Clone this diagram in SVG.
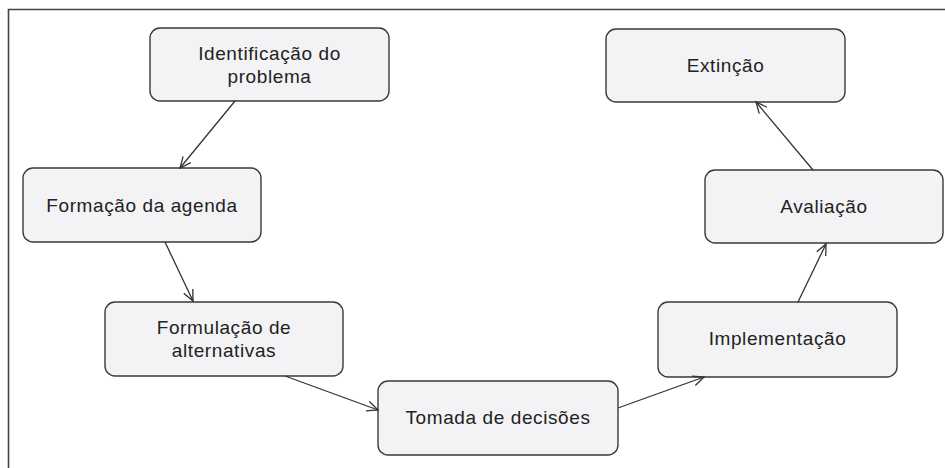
<svg xmlns="http://www.w3.org/2000/svg" width="945" height="468" viewBox="0 0 945 468">
<defs>
<marker id="ah" markerWidth="14" markerHeight="12" refX="12" refY="6" orient="auto" markerUnits="userSpaceOnUse">
<path d="M1,1 L12,6 L1,11" fill="none" stroke="#333" stroke-width="1.3"/>
</marker>
<style>
.n rect{fill:#f3f3f5;stroke:#3a3a3a;stroke-width:1.4}
.n text{font-family:"Liberation Sans",Arial,sans-serif;font-size:19px;letter-spacing:0.6px;fill:#222;text-anchor:middle}
.c line{stroke:#333;stroke-width:1.3;marker-end:url(#ah)}
</style>
</defs>
<rect width="945" height="468" fill="#fff"/>
<path d="M8.5,468 V9.5 H945" fill="none" stroke="#444" stroke-width="1.6"/>
<g id="n1" class="n"><rect x="150" y="28" width="239" height="73" rx="10"/><text x="269.5" y="60">Identificação do</text><text x="269.5" y="83">problema</text></g>
<g id="n2" class="n"><rect x="23" y="168" width="238" height="74" rx="10"/><text x="142" y="212">Formação da agenda</text></g>
<g id="n3" class="n"><rect x="105" y="302" width="238" height="74" rx="10"/><text x="224" y="334">Formulação de</text><text x="224" y="357">alternativas</text></g>
<g id="n4" class="n"><rect x="378" y="381" width="240" height="74" rx="10"/><text x="498" y="424">Tomada de decisões</text></g>
<g id="n5" class="n"><rect x="658" y="302" width="239" height="75" rx="10"/><text x="777.5" y="345">Implementação</text></g>
<g id="n6" class="n"><rect x="705" y="170" width="238" height="73" rx="10"/><text x="824" y="213">Avaliação</text></g>
<g id="n7" class="n"><rect x="606" y="29" width="239" height="73" rx="10"/><text x="725.5" y="72">Extinção</text></g>
<g id="connectors" class="c">
<line x1="235" y1="101" x2="180" y2="168"/>
<line x1="165" y1="242" x2="193" y2="301"/>
<line x1="285" y1="376" x2="378" y2="410"/>
<line x1="618" y1="408" x2="704" y2="377"/>
<line x1="798" y1="302" x2="826" y2="244"/>
<line x1="813" y1="170" x2="756" y2="102"/>
</g>
</svg>
